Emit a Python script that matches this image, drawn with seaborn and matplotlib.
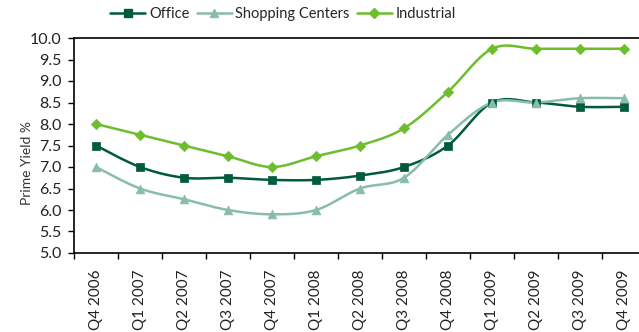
import numpy as np
import pandas as pd
import matplotlib
matplotlib.use("Agg")
import matplotlib.pyplot as plt
from matplotlib.lines import Line2D
from matplotlib.ticker import MultipleLocator, FormatStrFormatter
import seaborn as sns

quarters = ["Q4 2006", "Q1 2007", "Q2 2007", "Q3 2007", "Q4 2007", "Q1 2008",
            "Q2 2008", "Q3 2008", "Q4 2008", "Q1 2009", "Q2 2009", "Q3 2009", "Q4 2009"]
office = [7.5, 7.0, 6.75, 6.75, 6.7, 6.7, 6.8, 7.0, 7.5, 8.5, 8.5, 8.4, 8.4]
shopping = [7.0, 6.5, 6.25, 6.0, 5.9, 6.0, 6.5, 6.75, 7.75, 8.5, 8.5, 8.6, 8.6]
industrial = [8.0, 7.75, 7.5, 7.25, 7.0, 7.25, 7.5, 7.9, 8.75, 9.75, 9.75, 9.75, 9.75]

series_names = ["Office", "Shopping Centers", "Industrial"]
series_values = [office, shopping, industrial]
colors = {"Office": "#005A3C", "Shopping Centers": "#88BDA9", "Industrial": "#6CBE2C"}
markers = {"Office": "s", "Shopping Centers": "^", "Industrial": "D"}
msizes = {"Office": 36, "Shopping Centers": 40, "Industrial": 28}


def smooth(xs, ys, steps=30):
    """Cubic Bezier smoothing through every point (spreadsheet-style)."""
    p = np.column_stack([xs, ys]).astype(float)
    n = len(p)
    out = [p[0]]
    for i in range(n - 1):
        p0 = p[i - 1] if i > 0 else p[i]
        p1, p2 = p[i], p[i + 1]
        p3 = p[i + 2] if i + 2 < n else p[i + 1]
        c1 = p1 + (p2 - p0) / 6.0
        c2 = p2 - (p3 - p1) / 6.0
        t = np.linspace(0, 1, steps)[1:, None]
        seg = ((1 - t) ** 3) * p1 + 3 * ((1 - t) ** 2) * t * c1 + 3 * (1 - t) * t ** 2 * c2 + t ** 3 * p2
        out.extend(seg)
    out = np.array(out)
    return out[:, 0], out[:, 1]


x = np.arange(len(quarters))
points = pd.DataFrame({
    "x": np.tile(x, 3),
    "yield": np.concatenate(series_values),
    "series": np.repeat(series_names, len(quarters)),
})
curves = []
for name, vals in zip(series_names, series_values):
    sx, sy = smooth(x, vals)
    curves.append(pd.DataFrame({"x": sx, "yield": sy, "series": name}))
curves = pd.concat(curves, ignore_index=True)

sns.set_style("white")
plt.rcParams["font.family"] = ["Lato", "DejaVu Sans"]

fig = plt.figure(figsize=(6.39, 3.32), dpi=100)
ax = fig.add_axes([74 / 639, 79 / 332, 572 / 639, 215 / 332])

sns.lineplot(data=curves, x="x", y="yield", hue="series", palette=colors,
             sort=False, estimator=None, linewidth=1.8, legend=False, ax=ax)
for name in series_names:
    sub = points[points["series"] == name]
    sns.scatterplot(data=sub, x="x", y="yield", color=colors[name], marker=markers[name],
                    s=msizes[name], edgecolor=colors[name], linewidth=0.5, legend=False,
                    ax=ax, zorder=3)

ax.set_xlim(-0.5, len(quarters) - 0.5)
ax.set_ylim(5.0, 10.0)
ax.yaxis.set_major_locator(MultipleLocator(0.5))
ax.yaxis.set_major_formatter(FormatStrFormatter("%.1f"))
ax.set_xticks(x)
ax.set_xticklabels(quarters, rotation=90)
ax.set_xticks(np.arange(-0.5, len(quarters), 1.0), minor=True)
ax.tick_params(axis="x", which="major", length=0, pad=12, labelsize=11, colors="#222222")
ax.tick_params(axis="x", which="minor", length=4, width=1, color="black", direction="out", bottom=True)
ax.tick_params(axis="y", which="major", length=4, width=1, color="black", direction="out",
               left=True, labelsize=11.5, pad=5, labelcolor="#222222")
ax.set_xlabel("")
ax.set_ylabel("Prime Yield %", fontsize=10, color="#333333")
ax.yaxis.set_label_coords(-0.072, 0.42)
for side in ["left", "top", "bottom", "right"]:
    ax.spines[side].set_color("black")
    ax.spines[side].set_linewidth(1.2)

handles = [Line2D([0], [0], color=colors[n], marker=markers[n], markersize=6 if n != "Industrial" else 5,
                  linewidth=1.8, markeredgecolor=colors[n]) for n in series_names]
fig.legend(handles, series_names, loc="center", bbox_to_anchor=(283 / 639, 1 - 14 / 332),
           ncol=3, frameon=False, fontsize=10.5, handlelength=2.4, handletextpad=0.25,
           columnspacing=0.5)

fig.savefig("out.png", dpi=100)
